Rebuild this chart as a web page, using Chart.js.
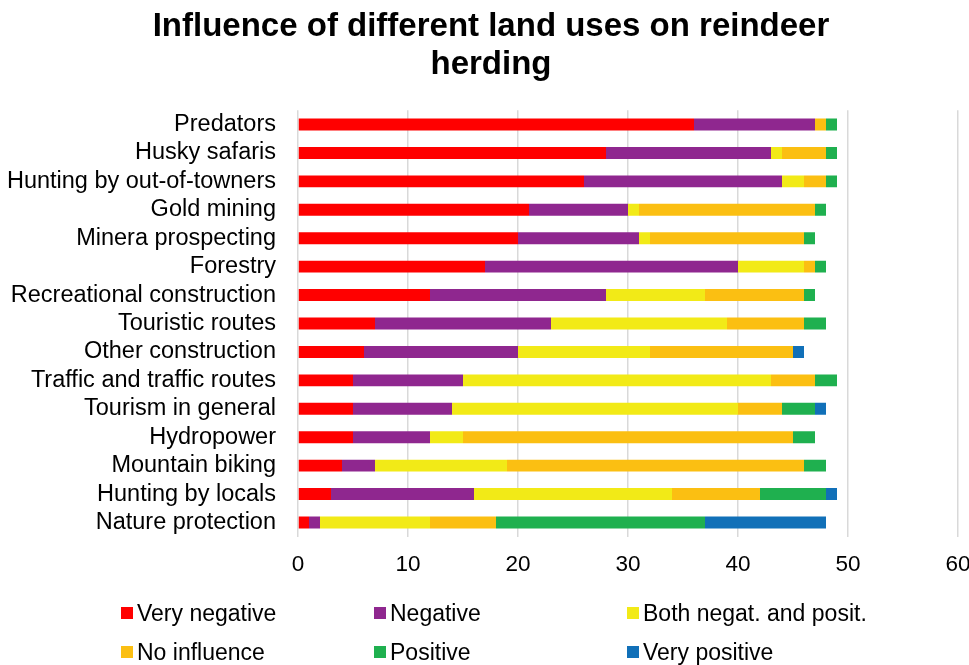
<!DOCTYPE html>
<html>
<head>
<meta charset="utf-8">
<script src="https://cdn.jsdelivr.net/npm/chart.js@4"></script>
<style>
  html, body { margin: 0; padding: 0; background: #fff; }
  #wrap { position: relative; width: 969px; height: 665px; }
  #legend { position: absolute; left: 0; top: 0; width: 969px; height: 665px; pointer-events: none;
            font-family: 'Liberation Sans', Arial, sans-serif; font-size: 23px; color: #000; }
  .lg { position: absolute; display: flex; align-items: center; white-space: nowrap; }
  .lg i { display: inline-block; width: 12px; height: 12px; margin-right: 4px; }
</style>
</head>
<body>
<div id="wrap">
  <canvas id="grafik" width="969" height="665"></canvas>
  <div id="legend"></div>
</div>
<script>
// ===== data =====
const categories = [
  'Predators', 'Husky safaris', 'Hunting by out-of-towners', 'Gold mining',
  'Minera prospecting', 'Forestry', 'Recreational construction', 'Touristic routes',
  'Other construction', 'Traffic and traffic routes', 'Tourism in general',
  'Hydropower', 'Mountain biking', 'Hunting by locals', 'Nature protection'
];
const veryNegative = [36, 28, 26, 21, 20, 17, 12, 7, 6, 5, 5, 5, 4, 3, 1];
const negative     = [11, 15, 18, 9, 11, 23, 16, 16, 14, 10, 9, 7, 3, 13, 1];
const bothNegPos   = [0, 1, 2, 1, 1, 6, 9, 16, 12, 28, 26, 3, 12, 18, 10];
const noInfluence  = [1, 4, 2, 16, 14, 1, 9, 7, 13, 4, 4, 30, 27, 8, 6];
const positive     = [1, 1, 1, 1, 1, 1, 1, 2, 0, 2, 3, 2, 2, 6, 19];
const veryPositive = [0, 0, 0, 0, 0, 0, 0, 0, 1, 0, 1, 0, 0, 1, 11];
const xTicks = [0, 10, 20, 30, 40, 50, 60];
const titleLines = ['Influence of different land uses on reindeer', 'herding'];

const seriesNames = ['Very negative', 'Negative', 'Both negat. and posit.', 'No influence', 'Positive', 'Very positive'];
const seriesColors = ['#ff0000', '#8f278f', '#f2ea17', '#fbbf12', '#1fb04f', '#1170b8'];
const seriesData = [veryNegative, negative, bothNegPos, noInfluence, positive, veryPositive];

const FONT = "'Liberation Sans', Arial, sans-serif";

// title drawn a bit right of canvas centre, like the original
const titlePlugin = {
  id: 'centerTitle',
  afterDraw(c) {
    const g = c.ctx;
    g.save();
    g.font = `bold 33px ${FONT}`;
    g.fillStyle = '#000';
    g.textAlign = 'center';
    g.textBaseline = 'middle';
    titleLines.forEach((t, i) => g.fillText(t, 491, 27 + i * 38));
    g.restore();
  }
};

// ===== chart =====
const ctx = document.getElementById('grafik').getContext('2d');
const chart = new Chart(ctx, {
  type: 'bar',
  data: {
    labels: categories,
    datasets: seriesData.map((d, i) => ({
      label: seriesNames[i],
      data: d,
      backgroundColor: seriesColors[i],
      borderWidth: 0,
      categoryPercentage: 1,
      barPercentage: 0.42
    }))
  },
  options: {
    indexAxis: 'y',
    responsive: false,
    animation: false,
    layout: { padding: { top: 110.3, right: 11, bottom: 0, left: 0 } },
    plugins: {
      legend: { display: false },
      tooltip: { enabled: false },
      title: { display: false }
    },
    scales: {
      x: {
        stacked: true,
        min: 0, max: 60,
        afterFit: s => { s.height = 128.3; s.paddingLeft = 0; s.paddingRight = 0; },
        afterBuildTicks: s => { s.ticks = xTicks.map(v => ({ value: v })); },
        ticks: { color: '#000', font: { family: FONT, size: 22.5 }, padding: 14.5 },
        grid: { color: '#d9d9d9', lineWidth: 1.5, drawTicks: false },
        border: { display: false }
      },
      y: {
        stacked: true,
        afterFit: s => { s.width = 298; s.paddingTop = 0; s.paddingBottom = 0; },
        ticks: { color: '#000', font: { family: FONT, size: 23.5 }, padding: 22, autoSkip: false },
        grid: { display: false, drawTicks: false },
        border: { display: false }
      }
    }
  },
  plugins: [titlePlugin]
});

// ===== legend (3 columns x 2 rows) =====
const legendCols = [121, 374, 627];
const legendRows = [613, 652];
const legendEl = document.getElementById('legend');
seriesNames.forEach((name, i) => {
  const div = document.createElement('div');
  div.className = 'lg';
  div.style.left = legendCols[i % 3] + 'px';
  div.style.top = (legendRows[Math.floor(i / 3)] - 14) + 'px';
  div.style.height = '28px';
  div.innerHTML = `<i style="background:${seriesColors[i]}"></i>${name}`;
  legendEl.appendChild(div);
});
</script>
</body>
</html>
